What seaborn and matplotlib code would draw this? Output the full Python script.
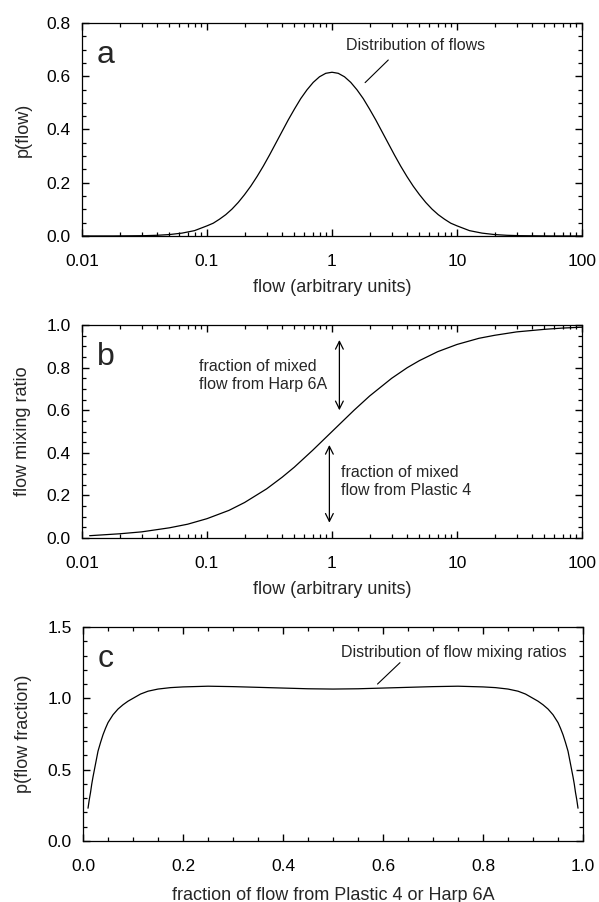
import numpy as np
import pandas as pd
import matplotlib
matplotlib.use("Agg")
import matplotlib.pyplot as plt
import matplotlib.ticker as mticker
import seaborn as sns

# ---- panel a: distribution of flows (positions in decades) ----
log_flow_a = [-2.0, -1.75, -1.5, -1.4, -1.3, -1.2, -1.1, -1.0, -0.95, -0.9, -0.85, -0.8,
              -0.75, -0.7, -0.65, -0.6, -0.55, -0.5, -0.45, -0.4, -0.35, -0.3, -0.25,
              -0.2, -0.15, -0.1, -0.05, 0.0, 0.05, 0.1, 0.15, 0.2, 0.25, 0.3, 0.35,
              0.4, 0.45, 0.5, 0.55, 0.6, 0.65, 0.7, 0.75, 0.8, 0.85, 0.9, 0.95, 1.0,
              1.1, 1.2, 1.3, 1.4, 1.5, 1.75, 2.0]
p_flow = [0.000, 0.0001, 0.0011, 0.0025, 0.0053, 0.0107, 0.020, 0.038, 0.048, 0.063, 0.080, 0.101,
          0.126, 0.155, 0.187, 0.223, 0.262, 0.304, 0.348, 0.392, 0.436, 0.477, 0.516,
          0.549, 0.577, 0.598, 0.611, 0.615, 0.611, 0.598, 0.577, 0.549, 0.516, 0.477, 0.436,
          0.392, 0.348, 0.304, 0.262, 0.223, 0.187, 0.155, 0.126, 0.101, 0.080, 0.063, 0.048, 0.038,
          0.020, 0.0107, 0.0053, 0.0025, 0.0011, 0.0001, 0.000]

# ---- panel b: flow mixing ratio ----
flow_b = [0.0115, 0.02, 0.03, 0.05, 0.07, 0.1, 0.15, 0.2, 0.3, 0.4, 0.5, 0.7,
          1.0, 1.5, 2.0, 3.0, 4.0, 5.0, 7.0, 10.0, 15.0, 20.0, 30.0, 50.0, 70.0, 100.0]
mix_ratio = [0.011, 0.020, 0.029, 0.048, 0.065, 0.091, 0.130, 0.167, 0.231, 0.286, 0.333, 0.412,
             0.500, 0.600, 0.667, 0.750, 0.800, 0.833, 0.875, 0.909, 0.938, 0.952, 0.968, 0.980, 0.986, 0.990]

# ---- panel c: distribution of flow mixing ratios ----
frac_c = [0.01, 0.0125, 0.015, 0.0175, 0.02, 0.025, 0.03, 0.035, 0.04, 0.045, 0.05, 0.06,
          0.07, 0.08, 0.09, 0.10, 0.115, 0.13, 0.15, 0.175, 0.2, 0.25, 0.3, 0.35, 0.4, 0.45,
          0.5, 0.55, 0.6, 0.65, 0.7, 0.75, 0.8, 0.825, 0.85, 0.87, 0.885, 0.9, 0.91, 0.92,
          0.93, 0.94, 0.95, 0.955, 0.96, 0.965, 0.97, 0.975, 0.98, 0.9825, 0.985, 0.9875, 0.99]
p_frac = [0.23, 0.29, 0.34, 0.40, 0.45, 0.54, 0.63, 0.69, 0.745, 0.79, 0.83, 0.885,
          0.925, 0.955, 0.98, 1.0, 1.03, 1.05, 1.065, 1.075, 1.08, 1.085, 1.082, 1.077, 1.072, 1.067,
          1.065, 1.067, 1.072, 1.077, 1.082, 1.085, 1.08, 1.075, 1.065, 1.05, 1.03, 1.0, 0.98, 0.955,
          0.925, 0.885, 0.83, 0.79, 0.745, 0.69, 0.63, 0.54, 0.45, 0.40, 0.34, 0.29, 0.23]

log_ticks = [0.01, 0.1, 1, 10, 100]

sns.set_theme(style="ticks")
plt.rcParams["font.family"] = ["Liberation Sans", "DejaVu Sans"]
plt.rcParams.update({
    "axes.linewidth": 0.9,
    "axes.edgecolor": "black",
    "xtick.color": "black",
    "ytick.color": "black",
    "xtick.direction": "in",
    "ytick.direction": "in",
    "xtick.top": True,
    "ytick.right": True,
    "xtick.minor.visible": True,
    "ytick.minor.visible": True,
    "xtick.major.size": 5,
    "ytick.major.size": 5,
    "xtick.minor.size": 3,
    "ytick.minor.size": 3,
    "xtick.major.width": 1.0,
    "ytick.major.width": 1.0,
    "xtick.minor.width": 0.9,
    "ytick.minor.width": 0.9,
})

fig = plt.figure(figsize=(5.99, 9.02), dpi=100)
ax_a = fig.add_axes([0.1369, 0.7384, 0.8347, 0.2361])
ax_b = fig.add_axes([0.1369, 0.4035, 0.8347, 0.2361])
ax_c = fig.add_axes([0.1386, 0.0676, 0.8347, 0.2373])


def style_axes(ax):
    ax.tick_params(which="both", direction="in", top=True, right=True,
                   bottom=True, left=True, colors="black")
    ax.tick_params(axis="x", which="major", pad=13, labelsize=12.5)
    ax.tick_params(axis="y", which="major", pad=8, labelsize=12.5)


def log_x(ax):
    ax.set_xscale("log")
    ax.set_xlim(0.01, 100)
    ax.xaxis.set_major_locator(mticker.FixedLocator(log_ticks))
    ax.xaxis.set_major_formatter(mticker.FuncFormatter(lambda v, _: f"{v:g}"))
    ax.xaxis.set_minor_locator(mticker.LogLocator(base=10, subs=np.arange(2, 10), numticks=20))
    ax.xaxis.set_minor_formatter(mticker.NullFormatter())


label_kw = dict(fontsize=13)

# panel a
flow_a = 10 ** np.array(log_flow_a)
sns.lineplot(x=flow_a, y=p_flow, ax=ax_a, color="black", linewidth=0.9)
log_x(ax_a)
ax_a.set_ylim(0, 0.8)
ax_a.yaxis.set_major_locator(mticker.MultipleLocator(0.2))
ax_a.yaxis.set_minor_locator(mticker.MultipleLocator(0.05))
ax_a.set_xlabel("flow (arbitrary units)", labelpad=7, **label_kw)
ax_a.set_ylabel("p(flow)", labelpad=11, **label_kw)
style_axes(ax_a)
ax_a.text(0.03, 0.812, "a", transform=ax_a.transAxes, fontsize=23, va="baseline")
ax_a.text(4.7, 0.717, "Distribution of flows", fontsize=11.5, ha="center", va="center")
ax_a.plot([2.82, 1.84], [0.661, 0.576], color="black", linewidth=0.8)

# panel b
sns.lineplot(x=flow_b, y=mix_ratio, ax=ax_b, color="black", linewidth=0.9)
log_x(ax_b)
ax_b.set_ylim(0, 1.0)
ax_b.yaxis.set_major_locator(mticker.MultipleLocator(0.2))
ax_b.yaxis.set_minor_locator(mticker.MultipleLocator(0.05))
ax_b.set_xlabel("flow (arbitrary units)", labelpad=7, **label_kw)
ax_b.set_ylabel("flow mixing ratio", labelpad=11, **label_kw)
style_axes(ax_b)
ax_b.text(0.03, 0.812, "b", transform=ax_b.transAxes, fontsize=23, va="baseline")
ax_b.text(0.0863, 0.765, "fraction of mixed\nflow from Harp 6A", fontsize=11.5,
          ha="left", va="center", linespacing=1.25)
ax_b.text(1.174, 0.265, "fraction of mixed\nflow from Plastic 4", fontsize=11.5,
          ha="left", va="center", linespacing=1.25)
arrow = dict(arrowstyle="<->", color="black", lw=0.9, shrinkA=0, shrinkB=0,
             mutation_scale=14)
ax_b.annotate("", xy=(1.146, 0.93), xytext=(1.146, 0.60), arrowprops=arrow)
ax_b.annotate("", xy=(0.953, 0.437), xytext=(0.953, 0.072), arrowprops=arrow)

# panel c
sns.lineplot(x=frac_c, y=p_frac, ax=ax_c, color="black", linewidth=0.9)
ax_c.set_xlim(0, 1.0)
ax_c.set_ylim(0, 1.5)
ax_c.xaxis.set_major_locator(mticker.MultipleLocator(0.2))
ax_c.xaxis.set_minor_locator(mticker.MultipleLocator(0.05))
ax_c.yaxis.set_major_locator(mticker.MultipleLocator(0.5))
ax_c.yaxis.set_minor_locator(mticker.MultipleLocator(0.1))
ax_c.xaxis.set_major_formatter(mticker.FormatStrFormatter("%.1f"))
ax_c.yaxis.set_major_formatter(mticker.FormatStrFormatter("%.1f"))
ax_c.set_xlabel("fraction of flow from Plastic 4 or Harp 6A", labelpad=9, **label_kw)
ax_c.set_ylabel("p(flow fraction)", labelpad=11, **label_kw)
style_axes(ax_c)
ax_c.text(0.03, 0.815, "c", transform=ax_c.transAxes, fontsize=23, va="baseline")
ax_c.text(0.741, 1.32, "Distribution of flow mixing ratios", fontsize=11.5,
          ha="center", va="center")
ax_c.plot([0.634, 0.589], [1.25, 1.10], color="black", linewidth=0.8)

fig.savefig("out.png", dpi=100)
